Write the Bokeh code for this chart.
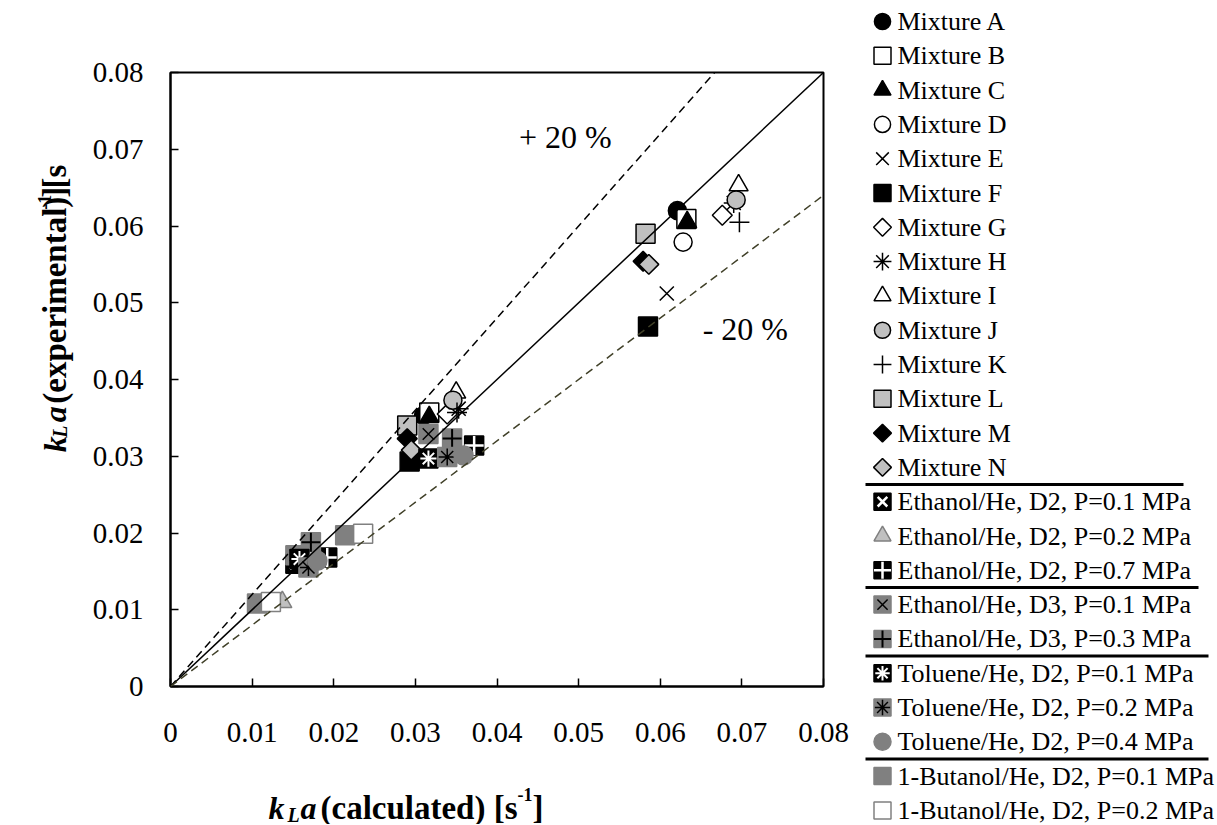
import math
from bokeh.plotting import figure
from bokeh.layouts import row, column
from bokeh.models import (Range1d, FixedTicker, CustomJSTickFormatter, Label,
                          ColumnDataSource, Slope)
from bokeh.core.properties import value
from bokeh.embed import file_html
from bokeh.resources import INLINE

# ---------------- data ----------------
tick_values = [0.0, 0.01, 0.02, 0.03, 0.04, 0.05, 0.06, 0.07, 0.08]
axis_limits = [0.0, 0.08]
band_slopes = [1.0, 1.2, 0.8]
band_labels = ["+ 20 %", "- 20 %"]
band_label_x = [0.0427, 0.0652]
band_label_y = [0.0716, 0.0466]

mix_a_calc = [0.0621, 0.0310]
mix_a_exp = [0.0620, 0.0353]
mix_b_calc = [0.0632, 0.0317]
mix_b_exp = [0.0609, 0.0357]
mix_c_calc = [0.0633, 0.0317]
mix_c_exp = [0.0605, 0.0351]
mix_d_calc = [0.0628]
mix_d_exp = [0.0579]
mix_e_calc = [0.0608]
mix_e_exp = [0.0512]
mix_f_calc = [0.0585, 0.0293]
mix_f_exp = [0.0469, 0.0293]
mix_g_calc = [0.0676, 0.0339]
mix_g_exp = [0.0614, 0.0355]
mix_h_calc = [0.0690, 0.0353]
mix_h_exp = [0.0630, 0.0362]
mix_i_calc = [0.0696, 0.0350]
mix_i_exp = [0.0653, 0.0383]
mix_j_calc = [0.0693, 0.0346]
mix_j_exp = [0.0634, 0.0373]
mix_k_calc = [0.0697, 0.0351]
mix_k_exp = [0.0605, 0.0357]
mix_l_calc = [0.0582, 0.0290]
mix_l_exp = [0.0590, 0.0340]
mix_m_calc = [0.0579, 0.0290]
mix_m_exp = [0.0554, 0.0323]
mix_n_calc = [0.0586, 0.0295]
mix_n_exp = [0.0550, 0.0308]

eth_d2_01_calc = [0.0153]
eth_d2_01_exp = [0.0160]
eth_d2_02_calc = [0.0137]
eth_d2_02_exp = [0.0110]
eth_d2_07_calc = [0.0192, 0.0372]
eth_d2_07_exp = [0.0168, 0.0314]
eth_d3_01_calc = [0.0153, 0.0316]
eth_d3_01_exp = [0.0171, 0.0329]
eth_d3_03_calc = [0.0172, 0.0345]
eth_d3_03_exp = [0.0188, 0.0323]
tol_d2_01_calc = [0.0158, 0.0316]
tol_d2_01_exp = [0.0166, 0.0297]
tol_d2_02_calc = [0.0169, 0.0339]
tol_d2_02_exp = [0.0155, 0.0299]
tol_d2_04_calc = [0.0180, 0.0359]
tol_d2_04_exp = [0.0164, 0.0301]
but_d2_01_calc = [0.0106, 0.0214]
but_d2_01_exp = [0.0108, 0.0197]
but_d2_02_calc = [0.0123, 0.0236]
but_d2_02_exp = [0.0110, 0.0199]

# ---------------- styles ----------------
FONT = "Liberation Serif"
GL = "#c0c0c0"
GD = "#808080"
S = 19


def L(marker, fill="white", line="black", scale=1.0, width=1.5, angle=0.0):
    return dict(marker=marker, fill_color=fill, line_color=line, scale=scale,
                line_width=width, angle=angle)


Q = math.pi / 4
series = [
    ("Mixture A", mix_a_calc, mix_a_exp, [L("circle", "black", scale=0.95)]),
    ("Mixture B", mix_b_calc, mix_b_exp, [L("square", "white")]),
    ("Mixture C", mix_c_calc, mix_c_exp, [L("triangle", "black")]),
    ("Mixture D", mix_d_calc, mix_d_exp, [L("circle", "white", scale=0.95)]),
    ("Mixture E", mix_e_calc, mix_e_exp, [L("x", scale=1.05)]),
    ("Mixture F", mix_f_calc, mix_f_exp, [L("square", "black")]),
    ("Mixture G", mix_g_calc, mix_g_exp, [L("square", "white", scale=0.74, angle=Q)]),
    ("Mixture H", mix_h_calc, mix_h_exp, [L("asterisk", scale=1.05)]),
    ("Mixture I", mix_i_calc, mix_i_exp, [L("triangle", "white")]),
    ("Mixture J", mix_j_calc, mix_j_exp, [L("circle", GL, scale=0.95)]),
    ("Mixture K", mix_k_calc, mix_k_exp, [L("cross", scale=1.05)]),
    ("Mixture L", mix_l_calc, mix_l_exp, [L("square", GL)]),
    ("Mixture M", mix_m_calc, mix_m_exp, [L("square", "black", scale=0.74, angle=Q)]),
    ("Mixture N", mix_n_calc, mix_n_exp, [L("square", GL, scale=0.74, angle=Q)]),
    ("Ethanol/He, D2, P=0.1 MPa", eth_d2_01_calc, eth_d2_01_exp,
     [L("square", "black"), L("x", line="white", scale=0.8, width=2.5)]),
    ("Ethanol/He, D2, P=0.2 MPa", eth_d2_02_calc, eth_d2_02_exp, [L("triangle", GL, GD)]),
    ("Ethanol/He, D2, P=0.7 MPa", eth_d2_07_calc, eth_d2_07_exp,
     [L("square", "black"), L("cross", line="white", scale=1.0, width=2.5)]),
    ("Ethanol/He, D3, P=0.1 MPa", eth_d3_01_calc, eth_d3_01_exp,
     [L("square", GD, GD), L("x", line="black", scale=0.85, width=1.5)]),
    ("Ethanol/He, D3, P=0.3 MPa", eth_d3_03_calc, eth_d3_03_exp,
     [L("square", GD, GD), L("cross", line="black", scale=1.0, width=2)]),
    ("Toluene/He, D2, P=0.1 MPa", tol_d2_01_calc, tol_d2_01_exp,
     [L("square", "black"), L("asterisk", line="white", scale=0.85, width=2)]),
    ("Toluene/He, D2, P=0.2 MPa", tol_d2_02_calc, tol_d2_02_exp,
     [L("square", GD, GD), L("asterisk", line="black", scale=0.9, width=1.5)]),
    ("Toluene/He, D2, P=0.4 MPa", tol_d2_04_calc, tol_d2_04_exp, [L("circle", GD, GD)]),
    ("1-Butanol/He, D2, P=0.1 MPa", but_d2_01_calc, but_d2_01_exp, [L("square", GD, GD)]),
    ("1-Butanol/He, D2, P=0.2 MPa", but_d2_02_calc, but_d2_02_exp, [L("square", "white", GD)]),
]

# ---------------- geometry (page pixels) ----------------
W, H = 1216, 824
YW = 75                      # y-title strip width
FL, FT, FW, FH = 170, 72, 653, 614
MR = 850                     # right edge of main figure
HM = 760                     # height of main figure
LW = W - MR                  # legend strip width


def blank(w, h):
    f = figure(width=w, height=h, output_backend="svg", toolbar_location=None,
               x_range=Range1d(0, w), y_range=Range1d(0, h),
               x_axis_location=None, y_axis_location=None, min_border=0,
               background_fill_color="white", border_fill_color="white")
    f.grid.visible = False
    f.outline_line_color = None
    return f


# ---------------- main plot ----------------
p = figure(width=MR - YW, height=HM, output_backend="svg", toolbar_location=None,
           x_range=Range1d(*axis_limits), y_range=Range1d(*axis_limits),
           min_border_left=FL - YW, min_border_top=FT,
           min_border_right=MR - FL - FW, min_border_bottom=HM - FT - FH,
           background_fill_color="white", border_fill_color="white")
p.xgrid.visible = False
p.ygrid.visible = False
p.outline_line_color = "black"
p.outline_line_width = 2
p.outline_line_alpha = 1.0

fmt = CustomJSTickFormatter(code="return tick == 0 ? '0' : tick.toFixed(2);")
for ax in (p.xaxis[0], p.yaxis[0]):
    ax.ticker = FixedTicker(ticks=tick_values)
    ax.formatter = fmt
    ax.axis_line_width = 2
    ax.axis_line_color = "black"
    ax.major_tick_in = 8
    ax.major_tick_out = 0
    ax.major_tick_line_width = 1.5
    ax.minor_tick_line_color = None
    ax.major_label_text_font = FONT
    ax.major_label_text_font_size = "29px"
    ax.major_label_text_color = "black"
p.yaxis.major_label_standoff = 27
p.xaxis.major_label_standoff = 36

p.add_layout(Slope(gradient=band_slopes[0], y_intercept=0, line_color="black", line_width=1.5))
p.add_layout(Slope(gradient=band_slopes[1], y_intercept=0, line_color="black", line_width=1.5,
                   line_dash="8 5"))
p.add_layout(Slope(gradient=band_slopes[2], y_intercept=0, line_color="#404028", line_width=1.5,
                   line_dash="8 5"))
for t, bx, by in zip(band_labels, band_label_x, band_label_y):
    p.add_layout(Label(x=bx, y=by, text=t, text_font=FONT, text_font_size="32px",
                       text_baseline="alphabetic", text_color="black"))

for name, xs, ys, layers in series:
    src = ColumnDataSource(dict(x=xs, y=ys))
    for lay in layers:
        p.scatter(x="x", y="y", source=src, marker=lay["marker"], size=S * lay["scale"],
                  fill_color=lay["fill_color"], line_color=lay["line_color"],
                  line_width=lay["line_width"], angle=lay["angle"])

# ---------------- legend strip ----------------
lg = blank(LW, H)
ROW0, PITCH = 21, 34.3
MX, TX = 882 - MR, 897 - MR
LS = 17
for i, (name, xs, ys, layers) in enumerate(series):
    cy = H - (ROW0 + i * PITCH)
    for lay in layers:
        lg.scatter(x=[MX], y=[cy], marker=lay["marker"], size=LS * lay["scale"],
                   fill_color=lay["fill_color"], line_color=lay["line_color"],
                   line_width=lay["line_width"], angle=lay["angle"])
lg.text(x=[TX] * len(series), y=[H - (ROW0 + i * PITCH) for i in range(len(series))],
        text=[s[0] for s in series], text_font=value(FONT), text_font_size=value("26px"),
        text_baseline="middle", text_align="left", text_color="black")
sep_rows = [13, 16, 18, 21]
sep_right = [1183, 1198, 1208, 1208]
sep_y = [H - (ROW0 + r * PITCH + PITCH / 2) for r in sep_rows]
lg.segment(x0=[865 - MR] * 4, x1=[r - MR for r in sep_right], y0=sep_y, y1=sep_y,
           line_color="black", line_width=3)

# ---------------- axis titles ----------------
yt = blank(YW, HM)
A = math.pi / 2


def ypiece(cx, cy, text, size, style):
    yt.text(x=[cx], y=[HM - cy], text=[text], angle=A, text_font=value(FONT),
            text_font_size=value(size), text_font_style=style,
            text_baseline="alphabetic", text_align="left", text_color="black")


ypiece(54, 470, "k", "32px", "bold italic")
ypiece(59, 452, "L", "20px", "bold italic")
ypiece(54, 433, "a", "32px", "bold italic")
ypiece(54, 410, "(experimental) [s", "33px", "bold")
ypiece(44, 170, "-1", "18px", "bold")
ypiece(54, 155, "]", "33px", "bold")

xt = blank(MR, H - HM)


def xpiece(cx, cy, text, size, style):
    xt.text(x=[cx], y=[H - cy], text=[text], text_font=value(FONT),
            text_font_size=value(size), text_font_style=style,
            text_baseline="alphabetic", text_align="left", text_color="black")


xpiece(268, 807, "k", "32px", "bold italic")
xpiece(287, 814, "L", "20px", "bold italic")
xpiece(300, 807, "a", "32px", "bold italic")
xpiece(320, 807, "(calculated) [s", "33px", "bold")
xpiece(517, 794, "-1", "18px", "bold")
xpiece(532, 807, "]", "33px", "bold")

layout = row(column(row(yt, p, spacing=0), xt, spacing=0), lg, spacing=0)
open("out.html", "w").write(file_html(layout, INLINE))
